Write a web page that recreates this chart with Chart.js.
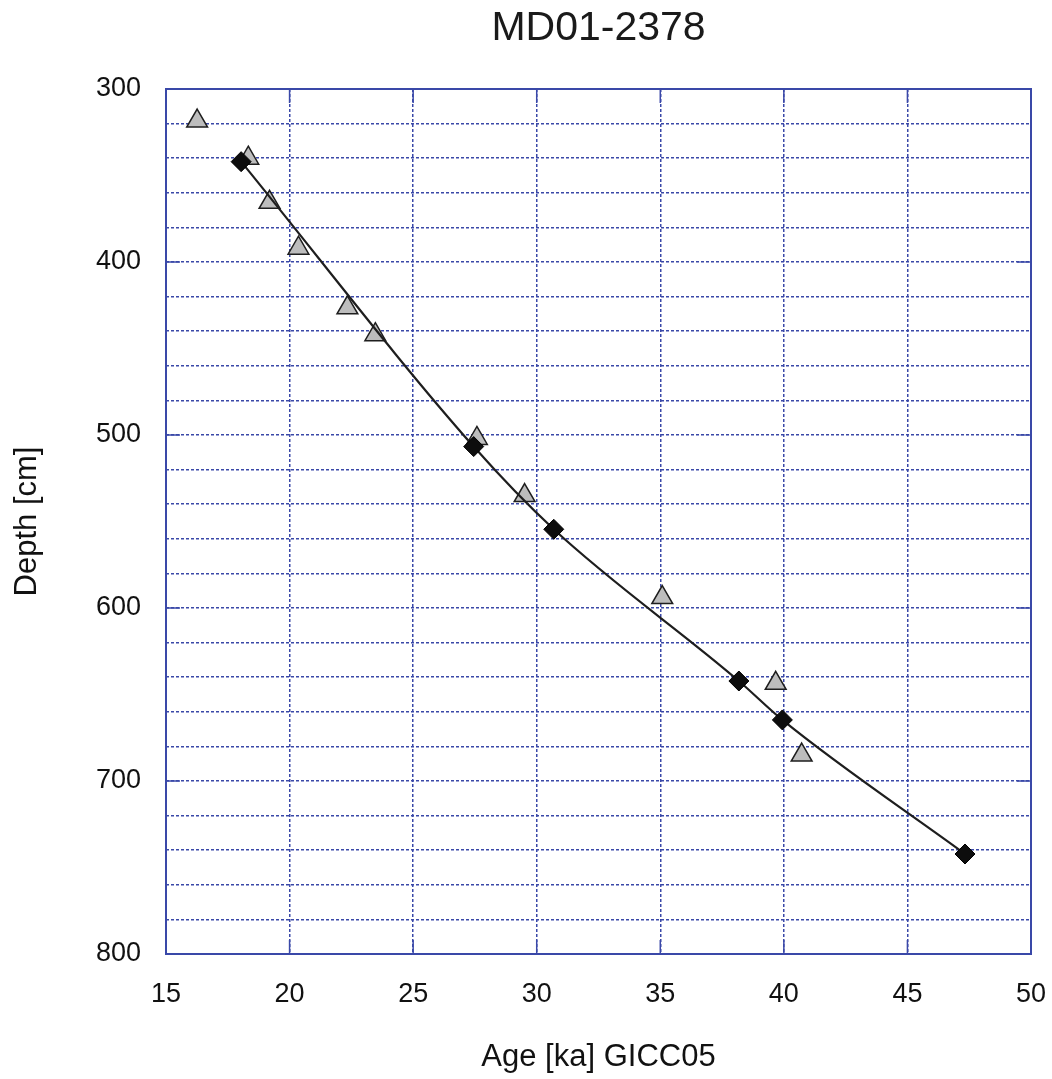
<!DOCTYPE html>
<html>
<head>
<meta charset="utf-8">
<title>MD01-2378</title>
<script src="https://cdn.jsdelivr.net/npm/chart.js@4/dist/chart.umd.min.js"></script>
<style>
    html, body { margin: 0; padding: 0; background: #ffffff; }
    #wrap { width: 1052px; height: 1079px; }
</style>
</head>
<body>
<div id="wrap"><canvas id="myChart" width="1052" height="1079"></canvas></div>
<script>
//------------Data-----------------

// tie points (black diamonds), joined by the age model line
const tieAge = [18.04, 27.45, 30.69, 38.18, 39.94, 47.33];
const tieDepth = [342, 506.7, 554.5, 642.2, 664.7, 742.2];

// dates (grey triangles)
const dateAge = [16.26, 18.33, 19.19, 20.36, 22.34, 23.47, 27.58, 29.51, 35.08, 39.67, 40.72];
const dateDepth = [318.5, 340, 365.5, 392, 426.5, 442, 502, 535, 594, 643.5, 685];

const xTicks = [15, 20, 25, 30, 35, 40, 45, 50];
const yTicks = [300, 400, 500, 600, 700, 800];

//------------Chart-----------------

const gridBlue = '#3a48a8';
const fontFamily = '"Liberation Sans", Arial, sans-serif';

function toPoints(xs, ys) {
    return xs.map((x, i) => ({ x: x, y: ys[i] }));
}

// plot frame + short solid ticks on the inside at the major values
const framePlugin = {
    id: 'frame',
    beforeDatasetsDraw(chart) {
        const { ctx, chartArea, scales } = chart;
        const a = chartArea;
        ctx.save();
        ctx.strokeStyle = gridBlue;
        ctx.lineWidth = 2;
        ctx.setLineDash([]);
        ctx.strokeRect(a.left, a.top, a.right - a.left, a.bottom - a.top);

        const len = 14;
        ctx.lineWidth = 1.5;
        ctx.beginPath();
        xTicks.forEach(v => {
            const px = scales.x.getPixelForValue(v);
            ctx.moveTo(px, a.bottom); ctx.lineTo(px, a.bottom - len);
            ctx.moveTo(px, a.top); ctx.lineTo(px, a.top + len);
        });
        yTicks.forEach(v => {
            const py = scales.y.getPixelForValue(v);
            ctx.moveTo(a.left, py); ctx.lineTo(a.left + len, py);
            ctx.moveTo(a.right, py); ctx.lineTo(a.right - len, py);
        });
        ctx.stroke();
        ctx.restore();
    }
};

// keep the plot area where the original has it
function fixWidth(w) {
    return s => { s.width = w; s.paddingTop = 0; s.paddingBottom = 0; };
}
function fixHeight(h) {
    return s => { s.height = h; s.paddingLeft = 0; s.paddingRight = 0; };
}

const ctx = document.getElementById('myChart').getContext('2d');

new Chart(ctx, {
    type: 'scatter',
    data: {
        datasets: [
            {
                label: 'Tie points',
                data: toPoints(tieAge, tieDepth),
                showLine: true,
                cubicInterpolationMode: 'monotone',
                borderColor: '#1e1e1e',
                borderWidth: 2.2,
                pointStyle: 'rectRot',
                pointRadius: 10,
                pointBackgroundColor: '#0d0d0d',
                pointBorderColor: '#000000',
                pointBorderWidth: 1
            },
            {
                label: 'Dates',
                data: toPoints(dateAge, dateDepth),
                showLine: false,
                pointStyle: 'triangle',
                pointRadius: 12,
                pointBackgroundColor: '#bdbdbd',
                pointBorderColor: '#1e1e1e',
                pointBorderWidth: 1.5
            }
        ]
    },
    options: {
        responsive: false,
        animation: false,
        layout: {
            padding: { left: 0, right: 21, top: 0, bottom: 0 }
        },
        plugins: {
            legend: { display: false },
            tooltip: { enabled: false }
        },
        scales: {
            // top axis only carries the chart title, centred over the plot
            top: {
                type: 'linear',
                position: 'top',
                min: 15,
                max: 50,
                afterFit: fixHeight(89),
                grid: { display: false },
                border: { display: false },
                ticks: { display: false },
                title: {
                    display: true,
                    text: 'MD01-2378',
                    color: '#1a1a1a',
                    font: { family: fontFamily, size: 41, lineHeight: 1 },
                    padding: { top: 8, bottom: 0 }
                }
            },
            x: {
                type: 'linear',
                position: 'bottom',
                min: 15,
                max: 50,
                afterFit: fixHeight(125),
                afterBuildTicks: s => { s.ticks = xTicks.map(v => ({ value: v })); },
                grid: {
                    color: gridBlue,
                    lineWidth: 1.5,
                    drawTicks: false
                },
                border: { display: false, dash: [3, 2] },
                ticks: {
                    color: '#111111',
                    padding: 24,
                    font: { family: fontFamily, size: 27 }
                },
                title: {
                    display: true,
                    text: 'Age [ka] GICC05',
                    color: '#111111',
                    font: { family: fontFamily, size: 31, lineHeight: 1 },
                    padding: { top: 0, bottom: 6 }
                }
            },
            y: {
                type: 'linear',
                reverse: true,
                min: 300,
                max: 800,
                afterFit: fixWidth(166),
                ticks: {
                    stepSize: 20,
                    autoSkip: false,
                    color: '#111111',
                    padding: 25,
                    font: { family: fontFamily, size: 27 },
                    callback: v => (v % 100 === 0 ? v : '')
                },
                grid: {
                    color: gridBlue,
                    lineWidth: 1.5,
                    drawTicks: false
                },
                border: { display: false, dash: [3, 2] },
                title: {
                    display: true,
                    text: 'Depth [cm]',
                    color: '#111111',
                    font: { family: fontFamily, size: 31, lineHeight: 1 },
                    padding: { top: 12, bottom: 0 }
                }
            }
        }
    },
    plugins: [framePlugin]
});
</script>
</body>
</html>
